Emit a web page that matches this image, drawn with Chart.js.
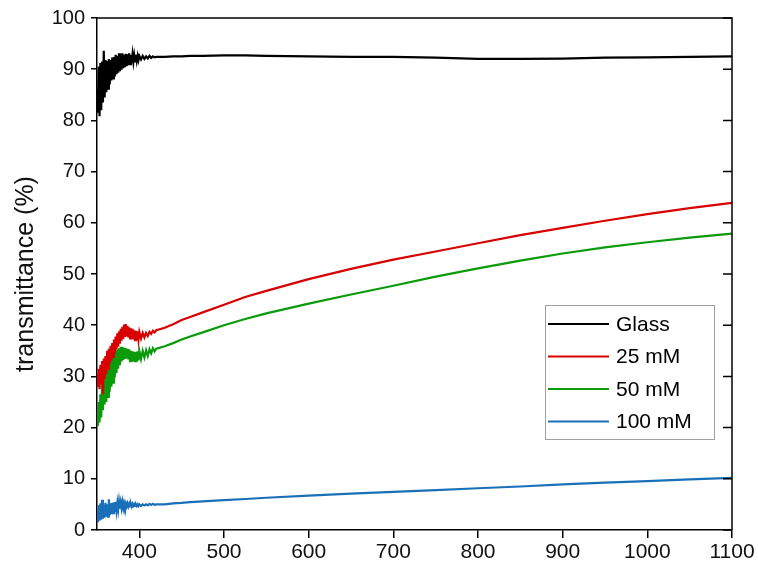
<!DOCTYPE html>
<html>
<head>
<meta charset="utf-8">
<script src="https://cdn.jsdelivr.net/npm/chart.js@4.4.0/dist/chart.umd.min.js"></script>
<style>
  html, body { margin: 0; padding: 0; background: #fff; }
  #wrap { width: 758px; height: 569px; }
</style>
</head>
<body>
<div id="wrap"><canvas id="spectra" width="758" height="569"></canvas></div>
<script>
// wavelength (nm): dense where the spectra are noisy, sparse on the smooth part
const wavelengths = [
  350, 351, 352, 353, 354, 355, 356, 357, 358, 359, 360, 361, 362, 363, 364, 365, 366, 367, 368, 369,
  370, 371, 372, 373, 374, 375, 376, 377, 378, 379, 380, 381, 382, 383, 384, 385, 386, 387, 388, 389,
  390, 391, 392, 393, 394, 395, 396, 397, 398, 399, 400,
  402, 404, 406, 408, 410, 412, 414, 416, 418, 420,
  430, 440, 450, 460, 475, 500, 525, 550, 600, 650, 700, 750, 800, 850, 900, 950, 1000, 1050, 1100
];

const glass = [
  86.0, 81.5, 90.5, 80.8, 91.2, 82.0, 91.5, 83.5, 93.6, 84.5, 91.8, 85.5, 91.6, 86.2, 92.0, 87.0, 91.8, 87.8, 92.3, 88.2,
  92.4, 88.6, 92.8, 89.0, 92.6, 89.3, 93.1, 89.6, 93.0, 89.9, 93.1, 90.2, 92.8, 90.4, 93.0, 90.6, 92.9, 90.8, 93.1, 91.0,
  92.8, 91.2, 92.9, 91.4, 92.7, 91.5, 92.8, 91.6, 92.6, 91.8, 92.6,
  91.9, 92.6, 92.0, 92.5, 92.1, 92.6, 92.2, 92.5, 92.3, 92.4,
  92.4, 92.5, 92.5, 92.6, 92.6, 92.7, 92.7, 92.6, 92.5, 92.4, 92.4, 92.25, 92.0, 92.0, 92.05, 92.25, 92.3, 92.4, 92.5
];

const mM25 = [
  30.5, 28.0, 31.5, 27.5, 32.2, 28.5, 33.0, 26.5, 33.5, 29.5, 34.0, 30.5, 35.0, 31.5, 35.4, 32.5, 36.0, 33.0, 36.5, 33.8,
  37.2, 34.5, 37.8, 35.2, 38.4, 35.8, 38.8, 36.4, 39.3, 37.0, 39.7, 37.3, 40.1, 37.7, 40.2, 37.8, 39.9, 37.6, 39.6, 37.4,
  39.4, 37.3, 39.3, 37.2, 39.0, 37.1, 38.9, 37.1, 38.8, 37.2, 38.7,
  37.4, 38.5, 37.6, 38.5, 37.9, 38.7, 38.3, 38.9, 38.6, 39.0,
  39.5, 40.2, 41.0, 41.6, 42.5, 44.0, 45.5, 46.7, 49.0, 51.0, 52.8, 54.4, 56.0, 57.6, 59.0, 60.4, 61.7, 62.85, 63.9
];

const mM50 = [
  22.0, 20.3, 25.0, 21.0, 26.5, 22.0, 28.7, 23.4, 29.5, 24.5, 31.0, 25.0, 31.9, 26.0, 32.5, 27.0, 33.2, 28.0, 33.8, 28.8,
  34.5, 29.8, 35.0, 30.6, 35.2, 31.5, 35.5, 32.2, 35.8, 32.9, 35.8, 33.2, 35.6, 33.4, 35.5, 33.5, 35.4, 33.3, 35.3, 33.0,
  35.0, 32.9, 34.9, 32.9, 34.8, 33.0, 34.8, 32.9, 34.9, 33.1, 35.0,
  33.4, 35.0, 33.7, 35.1, 34.0, 35.3, 34.5, 35.5, 34.9, 35.4,
  35.9, 36.5, 37.2, 37.8, 38.6, 40.0, 41.2, 42.3, 44.2, 46.0, 47.7, 49.5, 51.1, 52.6, 54.0, 55.2, 56.2, 57.1, 57.9
];

const mM100 = [
  3.5, 1.5, 4.8, 1.8, 5.2, 2.0, 5.9, 2.2, 4.9, 2.4, 5.3, 2.6, 5.0, 2.6, 6.0, 2.9, 5.2, 3.1, 5.3, 3.3,
  5.4, 3.5, 5.5, 3.8, 5.3, 4.0, 5.6, 4.2, 5.4, 4.3, 5.5, 4.4, 5.3, 4.5, 5.2, 4.6, 5.2, 4.6, 5.1, 4.6,
  5.1, 4.6, 5.1, 4.7, 5.0, 4.7, 5.0, 4.7, 5.0, 4.7, 5.0,
  4.7, 5.0, 4.8, 5.0, 4.8, 5.1, 4.9, 5.1, 4.9, 5.0,
  5.0, 5.2, 5.3, 5.45, 5.6, 5.85, 6.05, 6.3, 6.7, 7.1, 7.45, 7.8, 8.15, 8.5, 8.9, 9.25, 9.55, 9.9, 10.2
];

const seriesNames = ['Glass', '25 mM', '50 mM', '100 mM'];
const seriesColors = ['#000000', '#d80000', '#0a9a0a', '#1a70b8'];
const xTickValues = [400, 500, 600, 700, 800, 900, 1000, 1100];
const yTickValues = [0, 5, 10, 15, 20, 25, 30, 35, 40, 45, 50, 55, 60, 65, 70, 75, 80, 85, 90, 95, 100];

function toPoints(vals) {
  return wavelengths.map((w, i) => ({ x: w, y: vals[i] }));
}

const allSeries = [glass, mM25, mM50, mM100];

// box around the plot, inward ticks on the right, drawn legend
const framePlugin = {
  id: 'frame',
  afterDraw(chart) {
    const ctx = chart.ctx;
    const a = chart.chartArea;
    const ys = chart.scales.y;
    ctx.save();
    ctx.strokeStyle = '#000';
    ctx.lineWidth = 1.5;
    ctx.beginPath();
    ctx.moveTo(a.left, a.top);
    ctx.lineTo(a.right, a.top);
    ctx.lineTo(a.right, a.bottom);
    ctx.stroke();
    ctx.beginPath();
    yTickValues.forEach(v => {
      if (v % 10 !== 0) return;
      const py = ys.getPixelForValue(v);
      ctx.moveTo(a.right, py);
      ctx.lineTo(a.right - 9, py);
    });
    ctx.stroke();

    // legend
    const bx = 545, by = 305, bw = 169, bh = 134;
    ctx.fillStyle = '#fff';
    ctx.fillRect(bx, by, bw, bh);
    ctx.strokeStyle = '#a0a0a0';
    ctx.lineWidth = 1;
    ctx.strokeRect(bx + 0.5, by + 0.5, bw, bh);
    ctx.font = '21px "Liberation Sans", Arial, sans-serif';
    ctx.textBaseline = 'middle';
    ctx.textAlign = 'left';
    chart.data.datasets.forEach((ds, i) => {
      const ry = by + 19 + i * 32.5;
      ctx.strokeStyle = ds.borderColor;
      ctx.lineWidth = 2;
      ctx.beginPath();
      ctx.moveTo(548, ry);
      ctx.lineTo(609, ry);
      ctx.stroke();
      ctx.fillStyle = '#000';
      ctx.fillText(ds.label, 616, ry + 1);
    });
    ctx.restore();
  }
};

new Chart(document.getElementById('spectra'), {
  type: 'line',
  data: {
    datasets: allSeries.map((vals, i) => ({
      label: seriesNames[i],
      data: toPoints(vals),
      borderColor: seriesColors[i],
      backgroundColor: seriesColors[i],
      borderWidth: 2.2,
      pointRadius: 0,
      tension: 0,
      fill: false
    }))
  },
  options: {
    responsive: false,
    animation: false,
    devicePixelRatio: 1,
    layout: { padding: { top: 18, right: 26, left: 0, bottom: 0 } },
    plugins: {
      legend: { display: false },
      tooltip: { enabled: false }
    },
    scales: {
      x: {
        type: 'linear',
        min: 350,
        max: 1100,
        afterBuildTicks: (scale) => { scale.ticks = xTickValues.map(v => ({ value: v })); },
        afterFit: (scale) => { scale.height = 39; },
        ticks: {
          color: '#111',
          font: { family: '"Liberation Sans", Arial, sans-serif', size: 21 },
          padding: 2,
          maxRotation: 0,
          callback: (v) => String(v)
        },
        grid: { drawOnChartArea: false, drawTicks: true, tickLength: 8, color: '#000', lineWidth: 1.5 },
        border: { display: true, color: '#000', width: 1.5 }
      },
      y: {
        min: 0,
        max: 100,
        afterBuildTicks: (scale) => { scale.ticks = yTickValues.map(v => ({ value: v })); },
        afterFit: (scale) => { scale.width = 97; },
        ticks: {
          color: '#111',
          font: { family: '"Liberation Sans", Arial, sans-serif', size: 20 },
          padding: 6,
          callback: (v) => (v % 10 === 0 ? String(v) : '')
        },
        grid: { drawOnChartArea: false, drawTicks: true, tickLength: 6, color: '#000', lineWidth: 1.5 },
        border: { display: true, color: '#000', width: 1.5 },
        title: {
          display: true,
          text: 'transmittance (%)',
          color: '#111',
          font: { family: '"Liberation Sans", Arial, sans-serif', size: 25 },
          padding: { top: 11, bottom: 0 }
        }
      }
    }
  },
  plugins: [framePlugin]
});
</script>
</body>
</html>
